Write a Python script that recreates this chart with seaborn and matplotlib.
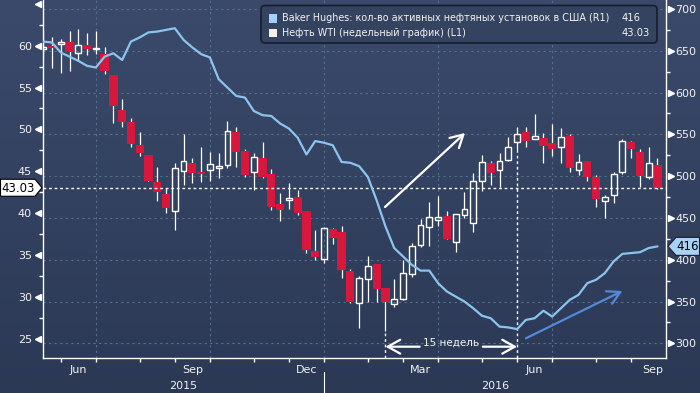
import numpy as np
import pandas as pd
import matplotlib
matplotlib.use("Agg")
import matplotlib.pyplot as plt
import matplotlib.transforms as mtransforms
from matplotlib.colors import LinearSegmentedColormap
from matplotlib.patches import FancyBboxPatch, Polygon, Rectangle
from matplotlib.ticker import MultipleLocator
import seaborn as sns

# weekly bars, dated the way the terminal axis shows them
week_dates = pd.date_range("2015-05-22", periods=71, freq="7D")

wti_open = [59.56, 59.96, 60.16, 60.40, 59.09, 60.08, 59.56, 58.97, 56.50, 52.28,
            50.84, 48.14, 46.94, 43.68, 42.24, 40.29, 45.07, 45.98, 44.95, 45.11,
            45.43, 45.71, 49.65, 47.42, 44.87, 46.54, 44.63, 41.05, 41.53, 41.92,
            40.25, 35.47, 34.56, 38.10, 37.70, 33.08, 29.22, 32.09, 33.92, 31.01,
            29.10, 29.74, 32.73, 36.23, 38.30, 39.18, 39.65, 36.59, 39.81, 38.78,
            43.80, 45.95, 45.11, 46.35, 48.54, 49.69, 48.89, 48.97, 48.34, 47.86,
            49.21, 45.11, 46.22, 44.27, 41.42, 42.12, 44.87, 48.49, 47.30, 44.27,
            45.71]
wti_high = [61.87, 61.08, 60.80, 61.75, 61.99, 61.48, 61.75, 59.80, 56.50, 53.63,
            51.40, 49.65, 47.00, 45.50, 42.96, 46.02, 49.45, 46.54, 47.86, 47.26,
            47.14, 51.00, 50.25, 47.62, 47.14, 48.46, 45.27, 42.36, 43.56, 42.72,
            40.25, 37.98, 38.38, 38.26, 38.46, 33.32, 32.53, 34.88, 33.92, 31.01,
            32.09, 34.40, 36.39, 39.26, 41.33, 42.05, 40.25, 39.85, 42.52, 44.75,
            46.94, 46.23, 47.14, 49.13, 50.30, 50.30, 51.84, 49.53, 50.65, 50.17,
            49.45, 47.02, 46.22, 44.55, 42.16, 44.95, 48.89, 48.65, 47.70, 47.94,
            46.58]
wti_low = [58.49, 57.30, 56.70, 56.98, 58.17, 58.89, 58.97, 56.62, 50.80, 50.33,
           47.94, 46.86, 43.80, 41.44, 40.05, 37.98, 43.36, 43.56, 43.76, 43.88,
           44.16, 45.43, 45.47, 44.35, 42.80, 44.15, 40.37, 39.06, 40.49, 39.77,
           35.27, 34.40, 34.08, 36.27, 32.29, 29.30, 26.31, 29.42, 29.42, 25.95,
           28.82, 29.62, 32.41, 35.99, 36.07, 38.50, 36.87, 35.39, 39.46, 37.78,
           42.68, 43.36, 43.08, 46.22, 47.34, 47.94, 48.89, 46.00, 46.82, 46.00,
           44.95, 44.55, 43.87, 40.77, 39.37, 41.25, 44.67, 46.62, 43.08, 44.04,
           42.92]
wti_close = [59.88, 59.76, 60.40, 59.20, 60.08, 59.64, 59.72, 57.02, 52.83, 50.92,
             48.22, 47.22, 43.87, 42.56, 40.57, 45.35, 46.22, 44.75, 44.71, 45.83,
             45.59, 49.77, 47.34, 44.55, 46.66, 44.35, 40.77, 40.37, 41.77, 40.05,
             35.59, 34.80, 38.18, 37.07, 33.24, 29.42, 32.21, 33.68, 30.97, 29.42,
             29.70, 32.81, 36.07, 38.54, 39.50, 39.50, 36.87, 39.85, 40.45, 43.80,
             46.07, 44.75, 46.27, 47.86, 49.45, 48.61, 49.21, 48.06, 47.70, 49.05,
             45.43, 46.06, 44.27, 41.65, 41.88, 44.63, 48.57, 47.70, 44.47, 45.95,
             43.03]
rig_count = [661, 660, 648, 643, 638, 632, 630, 643, 647, 639,
             661, 666, 672, 673, 675, 677, 663, 654, 646, 642,
             616, 606, 596, 594, 578, 573, 572, 563, 557, 546,
             526, 542, 540, 537, 517, 516, 512, 499, 471, 440,
             414, 404, 394, 387, 387, 372, 362, 356, 350, 342,
             333, 330, 320, 319, 317, 328, 330, 339, 332, 342,
             352, 358, 372, 376, 384, 398, 407, 408, 409, 414,
             416]

price_ticks = [25, 30, 35, 40, 45, 50, 55, 60, 65]
rig_ticks = [300, 350, 400, 450, 500, 550, 600, 650, 700]
legend_labels = ["Baker Hughes: кол-во активных нефтяных установок в США (R1)",
                 "Нефть WTI (недельный график) (L1)"]

W, H = 700, 393
RED = "#d8173d"
BLUE_LINE = "#8cc3ef"
GRID = "#56708f"
TXT = "#f2f2f2"

sns.set_style("ticks")
plt.rcParams["font.family"] = ["DejaVu Sans"]

df = pd.DataFrame({"date": week_dates, "open": wti_open, "high": wti_high,
                   "low": wti_low, "close": wti_close, "rigs": rig_count})
df["pos"] = np.arange(len(df))

fig = plt.figure(figsize=(W / 100, H / 100), dpi=100)
fig.patch.set_facecolor("#2c3a56")

# background gradient
bg = fig.add_axes([0, 0, 1, 1], zorder=-5)
cmap = LinearSegmentedColormap.from_list("bg", ["#3b4a6b", "#2b3955"])
bg.imshow(np.linspace(0, 1, 256)[:, None], aspect="auto", cmap=cmap, extent=[0, W, H, 0])
bg.set_xlim(0, W)
bg.set_ylim(H, 0)
bg.axis("off")

ax = fig.add_axes([43 / W, 1 - 358 / H, 623 / W, 358 / H])
ax.patch.set_visible(False)
x_lo, x_hi = -0.02, 70.97
p_lo, p_hi = 22.69, 65.46
r_lo, r_hi = 282.44, 710.77
ax.set_xlim(x_lo, x_hi)
ax.set_ylim(p_lo, p_hi)


def rig_to_price(r):
    return p_lo + (r - r_lo) * (p_hi - p_lo) / (r_hi - r_lo)


# grid
dash = (0, (2, 3))
for r in rig_ticks:
    ax.axhline(rig_to_price(r), color=GRID, lw=0.8, ls=dash, zorder=1)

ext_dates = pd.date_range(week_dates[0], periods=len(week_dates) + 6, freq="7D")
month_pos = [i for i, d in enumerate(ext_dates) if d.day <= 7]
for i in month_pos:
    if ext_dates[i].month in (1, 4, 7, 10) and i < len(df):
        ax.axvline(i, color=GRID, lw=0.8, ls=dash, zorder=1)

# candles
up = df[df.close >= df.open]
down = df[df.close < df.open]
ax.vlines(down.pos, down.low, down.high, color="white", lw=0.9, zorder=2)
ax.bar(down.pos, down.open - down.close, bottom=down.close, width=0.94,
       color=RED, lw=0, zorder=3)
ax.vlines(up.pos, up.low, up.open, color="white", lw=0.9, zorder=2)
ax.vlines(up.pos, up.close, up.high, color="white", lw=0.9, zorder=2)
ax.bar(up.pos, up.close - up.open, bottom=up.open, width=0.66,
       facecolor="none", edgecolor="white", lw=1.0, zorder=3)

# last price line and the two marker lines
last_close = df.close.iloc[-1]
ax.axhline(last_close, color="white", lw=1.0, ls=(0, (2, 2)), zorder=4)
low_idx = int(df.low.idxmin())
rig_min_idx = int(df.rigs.idxmin())
ax.vlines(low_idx, p_lo, df.low[low_idx], color="white", lw=1.0, ls=(0, (2, 2)), zorder=4)
ax.vlines(rig_min_idx, p_lo, df.low[rig_min_idx], color="white", lw=1.0, ls=(0, (2, 2)), zorder=4)

# rig count on right axis
ax2 = ax.twinx()
ax2.patch.set_visible(False)
sns.lineplot(x=df["pos"], y=df["rigs"], ax=ax2, color=BLUE_LINE, lw=1.6, zorder=5)
ax2.set_ylim(r_lo, r_hi)
ax2.set_xlim(x_lo, x_hi)
ax2.set_ylabel("")
ax.set_xlabel("")
ax2.set_xlabel("")

# spines
for s in ["top", "right"]:
    ax.spines[s].set_visible(False)
for s in ["left", "bottom"]:
    ax.spines[s].set_color("white")
    ax.spines[s].set_linewidth(1.0)
for s in ["top", "left", "bottom"]:
    ax2.spines[s].set_visible(False)
ax2.spines["right"].set_color("white")
ax2.spines["right"].set_linewidth(1.0)

# y ticks
ax.set_yticks(price_ticks)
ax.set_yticklabels([str(t) if t < 65 else "" for t in price_ticks])
ax.yaxis.set_minor_locator(MultipleLocator(2.5))
ax.tick_params(axis="y", which="major", length=0, pad=8, labelsize=8, labelcolor=TXT, left=True)
ax.tick_params(axis="y", which="minor", length=3, width=1, color="white", left=True)
ax2.set_yticks(rig_ticks)
ax2.yaxis.set_minor_locator(MultipleLocator(25))
ax2.tick_params(axis="y", which="major", length=0, pad=6.5, labelsize=8, labelcolor=TXT, right=True)
ax2.tick_params(axis="y", which="minor", length=3, width=1, color="white", right=True)

tri_l = mtransforms.blended_transform_factory(ax.transAxes, ax.transData)
ax.plot(np.full(len(price_ticks), -0.0075), price_ticks, ls="none", marker="<", ms=5,
        color="white", mec="white", transform=tri_l, clip_on=False, zorder=6)
tri_r = mtransforms.blended_transform_factory(ax2.transAxes, ax2.transData)
ax2.plot(np.full(len(rig_ticks), 1.0075), rig_ticks, ls="none", marker=">", ms=5,
         color="white", mec="white", transform=tri_r, clip_on=False, zorder=6)

# x ticks and labels
ax.set_xticks([i for i in month_pos if i < len(df)])
ax.tick_params(axis="x", which="major", length=3, width=1, color="white",
               labelbottom=False, bottom=True)
xlab = mtransforms.blended_transform_factory(ax.transData, ax.transAxes)
for a, b in zip(month_pos[:-1], month_pos[1:]):
    d = ext_dates[a]
    if d.month in (3, 6, 9, 12) and a < len(df):
        ax.text((a + b) / 2, -0.034, d.strftime("%b"), transform=xlab, ha="center",
                va="center", fontsize=8, color=TXT, clip_on=False)
year_start = int(np.argmax(df.date.dt.year.values == 2016))
ax.text((x_lo + year_start) / 2, -0.078, "2015", transform=xlab, ha="center",
        va="center", fontsize=8, color=TXT, clip_on=False)
ax.text((year_start + x_hi) / 2, -0.078, "2016", transform=xlab, ha="center",
        va="center", fontsize=8, color=TXT, clip_on=False)
ax.plot([year_start, year_start], [-0.04, -0.1], transform=xlab, color="white",
        lw=0.8, clip_on=False)

# annotations
head = "->,head_length=0.9,head_width=0.5"
ax.annotate("", xy=(48.07, 49.57), xytext=(38.95, 40.73),
            arrowprops=dict(arrowstyle=head, color="white", lw=1.6, shrinkA=0, shrinkB=0), zorder=6)
ax2.annotate("", xy=(66.0, 362.6), xytext=(55.0, 306.0),
             arrowprops=dict(arrowstyle=head, color="#5289d8", lw=1.6, shrinkA=0, shrinkB=0), zorder=6)
y_span = 24.04
mid = (low_idx + rig_min_idx) / 2
ax.annotate("", xy=(low_idx, y_span), xytext=(mid - 3.6, y_span),
            arrowprops=dict(arrowstyle=head, color="white", lw=1.6, shrinkA=0, shrinkB=0), zorder=6)
ax.annotate("", xy=(rig_min_idx, y_span), xytext=(mid + 3.6, y_span),
            arrowprops=dict(arrowstyle=head, color="white", lw=1.6, shrinkA=0, shrinkB=0), zorder=6)
ax.text(mid, 24.5, f"{rig_min_idx - low_idx} недель", ha="center", va="center",
        fontsize=7.5, color=TXT, zorder=6)

# overlay: legend and value tags (pixel coordinates)
ov = fig.add_axes([0, 0, 1, 1], zorder=10)
ov.set_xlim(0, W)
ov.set_ylim(H, 0)
ov.axis("off")
ov.patch.set_visible(False)

ov.add_patch(FancyBboxPatch((261, 5.5), 396, 37.5, boxstyle="round,pad=0,rounding_size=4",
                            fc="#34435f", ec="#161d2b", lw=1.2))
legend_values = [f"{df.rigs.iloc[-1]}", f"{last_close:.2f}"]
legend_colors = ["#a6d1f7", "#f6f0ea"]
value_right = [641, 650]
for k in range(2):
    yc = 18.3 + 14.5 * k
    ov.add_patch(Rectangle((268.5, yc - 4.2), 8.5, 8.5, fc=legend_colors[k], ec="none"))
    ov.text(282, yc, legend_labels[k], ha="left", va="center", fontsize=6.9, color=TXT)
    ov.text(value_right[k], yc, legend_values[k], ha="right", va="center", fontsize=7.2, color=TXT)

fig.canvas.draw()
y0 = H - ax.transData.transform((0, last_close))[1]
ov.add_patch(Polygon([(0.5, y0 - 8.5), (35, y0 - 8.5), (42, y0), (35, y0 + 8.5), (0.5, y0 + 8.5)],
                     closed=True, fc="white", ec="black", lw=0.8))
ov.text(18, y0 + 0.3, f"{last_close:.2f}", ha="center", va="center", fontsize=8.5, color="black")
y1 = H - ax2.transData.transform((0, df.rigs.iloc[-1]))[1]
ov.add_patch(Polygon([(668, y1), (676, y1 - 9), (699.5, y1 - 9), (699.5, y1 + 9), (676, y1 + 9)],
                     closed=True, fc="#a8d3f6", ec="#1a1f2a", lw=0.8))
ov.text(688, y1 + 0.3, f"{df.rigs.iloc[-1]}", ha="center", va="center", fontsize=8.5, color="black")

fig.savefig("out.png", dpi=100, facecolor=fig.get_facecolor())
